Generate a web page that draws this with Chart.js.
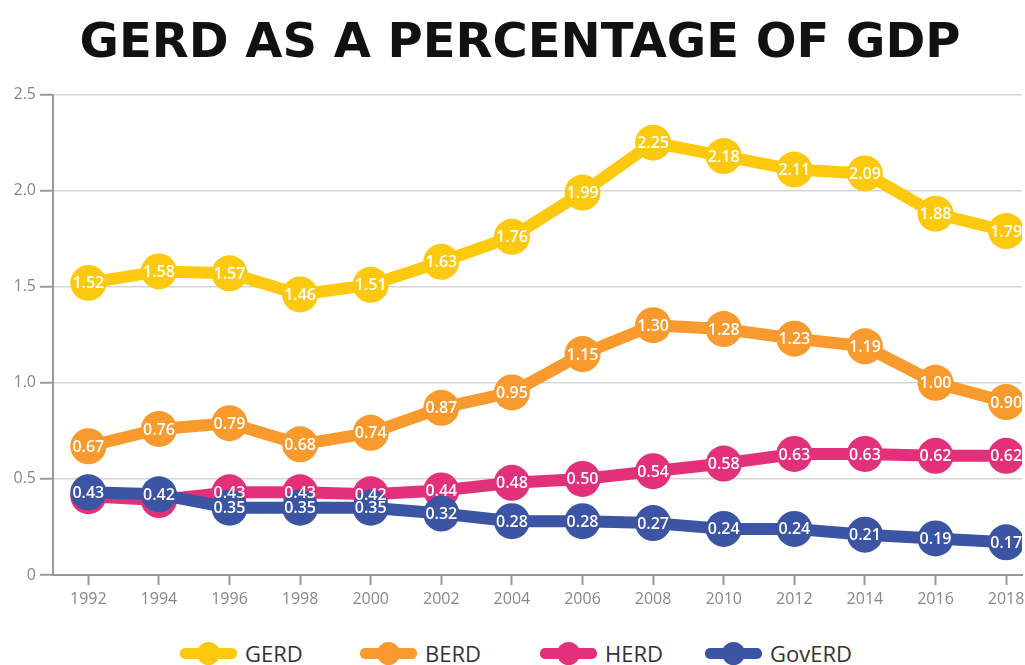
<!DOCTYPE html>
<html>
<head>
<meta charset="utf-8">
<title>GERD as a percentage of GDP</title>
<script src="https://cdn.jsdelivr.net/npm/chart.js@4.4.1/dist/chart.umd.min.js"></script>
<style>
  html, body { margin: 0; padding: 0; background: #fff; overflow: hidden; }
  #wrap { width: 1025px; height: 665px; position: relative; overflow: hidden; }
  #box { width: 1040px; height: 630px; position: relative; }
  #legend {
    position: absolute; left: 0; top: 640px; width: 1025px; height: 26px;
    display: flex; justify-content: flex-start; align-items: center;
    box-sizing: border-box; padding-left: 180px;
    font-family: "Open Sans", sans-serif; font-size: 22px; color: #333;
  }
  .item { display: flex; align-items: center; }
  .mark { position: relative; width: 57px; height: 22px; margin-right: 8px; }
  .mark .ln { position: absolute; left: 0; right: 0; top: 6px; height: 11px; border-radius: 5px; }
  .mark .dot { position: absolute; left: 17px; top: 0; width: 23px; height: 23px; border-radius: 50%; }
</style>
</head>
<body>
<div id="wrap">
  <div id="box"><canvas id="chart"></canvas></div>
  <div id="legend"></div>
</div>
<script>
  const years  = [1992, 1994, 1996, 1998, 2000, 2002, 2004, 2006, 2008, 2010, 2012, 2014, 2016, 2018];
  const gerd   = [1.52, 1.58, 1.57, 1.46, 1.51, 1.63, 1.76, 1.99, 2.25, 2.18, 2.11, 2.09, 1.88, 1.79];
  const berd   = [0.67, 0.76, 0.79, 0.68, 0.74, 0.87, 0.95, 1.15, 1.30, 1.28, 1.23, 1.19, 1.00, 0.90];
  const herd   = [0.41, 0.39, 0.43, 0.43, 0.42, 0.44, 0.48, 0.50, 0.54, 0.58, 0.63, 0.63, 0.62, 0.62];
  const goverd = [0.43, 0.42, 0.35, 0.35, 0.35, 0.32, 0.28, 0.28, 0.27, 0.24, 0.24, 0.21, 0.19, 0.17];

  const seriesNames  = ["GERD", "BERD", "HERD", "GovERD"];
  const seriesValues = [gerd, berd, herd, goverd];
  const seriesColors = ["#FDC90F", "#F89A2D", "#E2307B", "#3B54A4"];
  const legendWidths = [180, 180, 165, 0];
  const yTicks = [0, 0.5, 1.0, 1.5, 2.0, 2.5];

  const FONT = '"Open Sans", sans-serif';

  // white value labels centred in the dots; a label is skipped when a dot drawn
  // later sits almost on top of it (HERD under GovERD at the start)
  const pointLabels = {
    id: "pointLabels",
    afterDatasetsDraw(chart) {
      const ctx = chart.ctx;
      const metas = chart.getSortedVisibleDatasetMetas().slice().reverse();
      ctx.save();
      ctx.font = "600 16px " + FONT;
      ctx.fillStyle = "#fff";
      ctx.textAlign = "center";
      ctx.textBaseline = "middle";
      metas.forEach((meta, k) => {
        const later = metas.slice(k + 1);
        meta.data.forEach((pt, i) => {
          if (later.some(m => Math.abs(m.data[i].y - pt.y) < 10)) return;
          const v = chart.data.datasets[meta.index].data[i].y;
          ctx.fillText(v.toFixed(2), pt.x, pt.y + 1);
        });
      });
      ctx.restore();
    }
  };

  const datasets = seriesNames.map((name, s) => ({
    label: name,
    data: years.map((x, i) => ({ x, y: seriesValues[s][i] })),
    borderColor: seriesColors[s],
    backgroundColor: seriesColors[s],
    borderWidth: 12,
    borderJoinStyle: "round",
    pointRadius: 18,
    pointHoverRadius: 18,
    pointBorderWidth: 0,
    tension: 0,
    order: seriesNames.length - s
  }));

  new Chart(document.getElementById("chart"), {
    type: "line",
    data: { datasets },
    options: {
      responsive: true,
      maintainAspectRatio: false,
      animation: false,
      plugins: {
        legend: { display: false },
        tooltip: { enabled: false },
        title: {
          display: true,
          text: "GERD AS A PERCENTAGE OF GDP",
          color: "#111",
          font: { family: '"DejaVu Sans", sans-serif', size: 48, weight: "bold" },
          padding: { top: 16, bottom: 21 }
        }
      },
      scales: {
        x: {
          type: "linear",
          min: 1991,
          max: 2018.45,
          afterBuildTicks: s => { s.ticks = years.map(v => ({ value: v })); },
          afterFit: s => { s.height = 55; },
          border: { color: "#999", width: 2 },
          grid: { drawOnChartArea: false, drawTicks: true, tickLength: 10, tickColor: "#999", tickWidth: 2 },
          ticks: { color: "#888", font: { family: FONT, size: 16 }, padding: 5, callback: v => String(v) }
        },
        y: {
          min: 0,
          max: 2.5,
          afterBuildTicks: s => { s.ticks = yTicks.map(v => ({ value: v })); },
          afterFit: s => { s.width = 53; },
          border: { color: "#999", width: 2 },
          grid: { color: "#d6d6d6", lineWidth: 1.5, tickLength: 13, tickColor: "#999", tickWidth: 2 },
          ticks: { color: "#888", font: { family: FONT, size: 16 }, padding: 4,
                   callback: v => v === 0 ? "0" : v.toFixed(1) }
        }
      }
    },
    plugins: [pointLabels]
  });

  // legend: thick line with a dot, like the series
  const legend = document.getElementById("legend");
  seriesNames.forEach((name, s) => {
    const item = document.createElement("div");
    item.className = "item";
    if (legendWidths[s]) item.style.width = legendWidths[s] + "px";
    item.innerHTML =
      `<div class="mark"><div class="ln" style="background:${seriesColors[s]}"></div>` +
      `<div class="dot" style="background:${seriesColors[s]}"></div></div><span>${name}</span>`;
    legend.appendChild(item);
  });
</script>
</body>
</html>
